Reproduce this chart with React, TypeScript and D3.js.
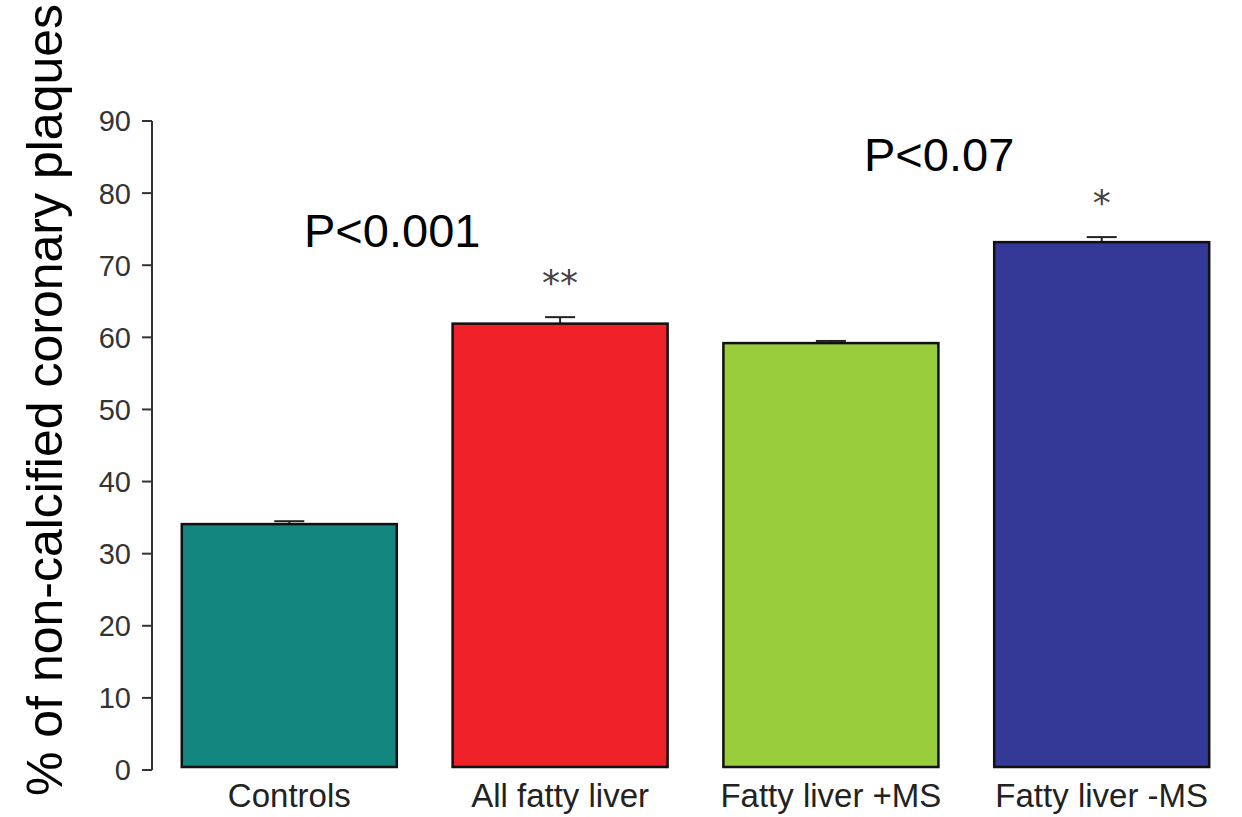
import React from 'react';
import * as d3 from 'd3';

const categories = ['Controls', 'All fatty liver', 'Fatty liver +MS', 'Fatty liver -MS'];
const values = [34.1, 61.9, 59.2, 73.2];
const errors = [0.4, 0.9, 0.3, 0.7];
const colors = ['#138680', '#ee2028', '#9acd3c', '#343896'];
const stars = ['', '**', '', '*'];
const yTicks = [0, 10, 20, 30, 40, 50, 60, 70, 80, 90];

const width = 1242;
const height = 817;
const margin = { top: 121, right: 3, bottom: 47, left: 152 };

const App = () => {
  const y = d3.scaleLinear([0, 90], [height - margin.bottom, margin.top]);
  const x = d3.scaleBand(categories, [margin.left, width - margin.right]).paddingInner(0.206).paddingOuter(0.11);
  const font = 'Arial, "Liberation Sans", Helvetica, sans-serif';

  return (
    <svg width={width} height={height} style={{ position: 'absolute', left: 0, top: 0, background: '#fff' }} fontFamily={font}>
      {/* y axis */}
      <line x1={margin.left} x2={margin.left} y1={y(90)} y2={y(0)} stroke="#333" strokeWidth={2} />
      {yTicks.map(t => (
        <g key={t}>
          <line x1={margin.left - 10} x2={margin.left} y1={y(t)} y2={y(t)} stroke="#333" strokeWidth={2} />
          <text x={margin.left - 21} y={y(t)} dy="0.36em" textAnchor="end" fontSize={29} fill="#333">{t}</text>
        </g>
      ))}
      <text transform={`translate(62,${400}) rotate(-90)`} textAnchor="middle" fontSize={50} fill="#000">
        % of non-calcified coronary plaques
      </text>

      {categories.map((c, i) => {
        const bx = x(c)!;
        const cx = bx + x.bandwidth() / 2;
        const top = y(values[i] + errors[i]);
        return (
          <g key={c}>
            <line x1={cx} x2={cx} y1={y(values[i])} y2={top} stroke="#222" strokeWidth={2} />
            <line x1={cx - 15} x2={cx + 15} y1={top} y2={top} stroke="#222" strokeWidth={2} />
            <rect x={bx} y={y(values[i])} width={x.bandwidth()} height={y(0) - y(values[i]) - 3} fill={colors[i]} stroke="#111" strokeWidth={2.5} />
            {stars[i] && (
              <text x={cx} y={top - 22} textAnchor="middle" fontSize={36} fill="#444" fontFamily="DejaVu Sans">{stars[i]}</text>
            )}
            <text x={cx} y={y(0) + 37} textAnchor="middle" fontSize={33} fill="#222">{c}</text>
          </g>
        );
      })}

      <text x={304} y={247} fontSize={47} fill="#000">P&lt;0.001</text>
      <text x={864} y={171} fontSize={47} fill="#000">P&lt;0.07</text>
    </svg>
  );
};

export default App;
